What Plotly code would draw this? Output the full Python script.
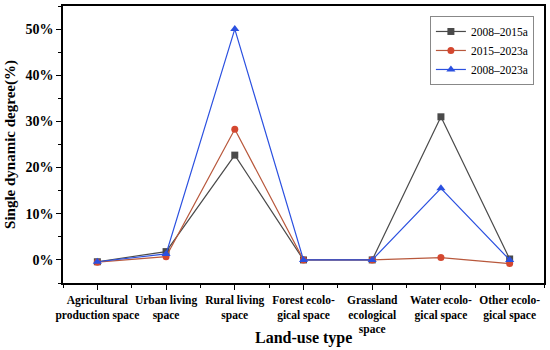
import plotly.graph_objects as go

categories = [
    "Agricultural<br>production space",
    "Urban living<br>space",
    "Rural living<br>space",
    "Forest ecolo-<br>gical space",
    "Grassland<br>ecological<br>space",
    "Water ecolo-<br>gical space",
    "Other ecolo-<br>gical space",
]
s_2008_2015 = [-0.4, 1.8, 22.7, 0.0, 0.0, 31.0, 0.2]
s_2015_2023 = [-0.5, 0.7, 28.3, 0.0, 0.0, 0.5, -0.8]
s_2008_2023 = [-0.4, 1.3, 50.0, 0.0, 0.0, 15.5, 0.0]
y_tickvals = [0, 10, 20, 30, 40, 50]
y_ticktext = ["0%", "10%", "20%", "30%", "40%", "50%"]

serif = "Liberation Serif, Times New Roman, serif"
x = list(range(len(categories)))

fig = go.Figure()
fig.add_trace(go.Scatter(x=x, y=s_2008_2015, name="2008\u20132015a", mode="lines+markers",
                         line=dict(color="#4A4A4A", width=1.2),
                         marker=dict(symbol="square", size=7, color="#4A4A4A")))
fig.add_trace(go.Scatter(x=x, y=s_2015_2023, name="2015\u20132023a", mode="lines+markers",
                         line=dict(color="#B8583C", width=1.2),
                         marker=dict(symbol="circle", size=7, color="#D4472F")))
fig.add_trace(go.Scatter(x=x, y=s_2008_2023, name="2008\u20132023a", mode="lines+markers",
                         line=dict(color="#2B50E0", width=1.2),
                         marker=dict(symbol="triangle-up", size=8, color="#2B50E0")))

fig.update_layout(
    width=550, height=350,
    margin=dict(l=63, r=6, t=6, b=67),
    paper_bgcolor="white", plot_bgcolor="white",
    font=dict(family=serif, color="black"),
    showlegend=True,
    legend=dict(x=0.979, y=0.964, xanchor="right", yanchor="top",
                bordercolor="#888888", borderwidth=1, bgcolor="white",
                font=dict(family=serif, size=11.5, color="black"),
                tracegroupgap=0, itemwidth=30),
    xaxis=dict(
        range=[-0.5, 6.5], tickmode="array", tickvals=x, ticktext=categories,
        tickangle=0, automargin=False,
        showline=True, linecolor="black", linewidth=1.5, mirror=True,
        ticks="outside", ticklen=5, tickwidth=1.2, tickcolor="black",
        minor=dict(tickvals=[i + 0.5 for i in range(-1, 7)], ticks="outside",
                   ticklen=3, tickwidth=1.2, tickcolor="black"),
        showgrid=False, zeroline=False,
        tickfont=dict(family=serif, size=11.5, color="black", weight="bold"),
    ),
    yaxis=dict(
        range=[-5, 55], tickmode="array", tickvals=y_tickvals, ticktext=y_ticktext,
        automargin=False,
        showline=True, linecolor="black", linewidth=1.5, mirror=True,
        ticks="outside", ticklen=5, tickwidth=1.2, tickcolor="black",
        minor=dict(tickvals=[-5, 5, 15, 25, 35, 45, 55], ticks="outside",
                   ticklen=3, tickwidth=1.2, tickcolor="black"),
        showgrid=False, zeroline=False,
        tickfont=dict(family=serif, size=14, color="black", weight="bold"),
        title=dict(text="<b>Single dynamic degree(%)</b>", font=dict(family=serif, size=15), standoff=6),
    ),
    annotations=[dict(text="<b>Land-use type</b>", xref="paper", yref="paper",
                      x=0.5, y=-0.199, xanchor="center", yanchor="middle",
                      showarrow=False, font=dict(family=serif, size=16, color="black"))],
)

fig.write_html("out.html", config={"displayModeBar": False},
               post_script="document.body.style.margin='0px';")
